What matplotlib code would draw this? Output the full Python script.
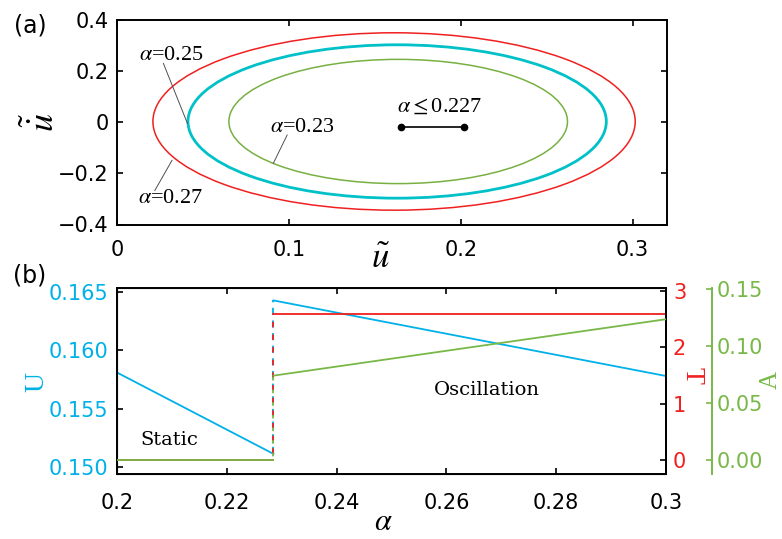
import matplotlib
matplotlib.use("Agg")
import matplotlib.pyplot as plt
from matplotlib.patches import Ellipse

plt.rcParams['font.family'] = ['DejaVu Sans']
plt.rcParams['mathtext.fontset'] = 'stix'

# ---- panel (a): phase-plane orbits ----
orbit_labels = ['0.27', '0.25', '0.23']
orbit_cx = [0.1612, 0.1630, 0.1636]      # centre on u axis
orbit_cy = [0.003, 0.003, 0.003]
orbit_a = [0.1403, 0.1217, 0.0985]       # half width
orbit_b = [0.347, 0.300, 0.243]          # half height
orbit_colors = ['#f02020', '#00c0c8', '#78b043']
orbit_lw = [1.1, 2.0, 1.1]

static_seg_u = [0.165, 0.202]
static_seg_v = [-0.017, -0.017]

# ---- panel (b): U, T, A vs alpha ----
alpha_static = [0.2, 0.2285]
alpha_osc = [0.2285, 0.3]
U_static = [0.1581, 0.1511]
U_osc = [0.1643, 0.1578]
T_static = [0.0, 0.0]
T_osc = [2.586, 2.586]
A_static = [0.0, 0.0]
A_osc = [0.0739, 0.1234]

cU = '#00b0e8'
cT = '#f02020'
cA = '#78b848'

fig = plt.figure(figsize=(7.82, 5.39), dpi=100)

W, H = 782.0, 539.0
ax = fig.add_axes([117 / W, 1 - 224.5 / H, 550 / W, 204.5 / H])
for (cx, cy, a, b, c, lw) in zip(orbit_cx, orbit_cy, orbit_a, orbit_b, orbit_colors, orbit_lw):
    ax.add_patch(Ellipse((cx, cy), 2 * a, 2 * b, fill=False, edgecolor=c, lw=lw))
ax.plot(static_seg_u, static_seg_v, color='k', lw=1.2, marker='o', ms=4.5)
ax.set_xlim(0, 0.32)
ax.set_ylim(-0.4, 0.4)
ax.set_xticks([0, 0.1, 0.2, 0.3])
ax.set_xticklabels(['0', '0.1', '0.2', '0.3'])
ax.set_yticks([-0.4, -0.2, 0, 0.2, 0.4])
ax.set_yticklabels(['\u22120.4', '\u22120.2', '0', '0.2', '0.4'])
ax.tick_params(direction='in', top=True, right=True, length=4, width=1.2,
               labelsize=15)
ax.tick_params(axis='x', pad=11)
ax.tick_params(axis='y', pad=6)
for s in ax.spines.values():
    s.set_linewidth(1.4)

tkw = dict(fontsize=16, family='Liberation Serif')
ax.text(0.013, 0.263, r'$\alpha$=0.25', va='center', ha='left', **tkw)
ax.plot([0.027, 0.041], [0.23, -0.005], color='#505050', lw=0.7)
ax.text(0.089, -0.02, r'$\alpha$=0.23', va='center', ha='left', **tkw)
ax.plot([0.099, 0.091], [-0.05, -0.16], color='#505050', lw=0.7)
ax.text(0.012, -0.298, r'$\alpha$=0.27', va='center', ha='left', **tkw)
ax.plot([0.022, 0.032], [-0.267, -0.149], color='#505050', lw=0.7)
ax.text(0.163, 0.06, r'$\alpha\leq$0.227', va='center', ha='left', **tkw)

fig.text(42 / W, 1 - 122 / H, r'$\tilde{\dot{u}}$', rotation=90, fontsize=26,
         ha='center', va='center')
fig.text(380 / W, 1 - 258 / H, r'$\tilde{u}$', fontsize=25, ha='center', va='center')
fig.text(30 / W, 1 - 26 / H, '(a)', fontsize=17, ha='center', va='center')
fig.text(30 / W, 1 - 275 / H, '(b)', fontsize=17, ha='center', va='center')

# ---- panel (b) ----
axb = fig.add_axes([117 / W, 1 - 474 / H, 549 / W, 186 / H])
axT = axb.twinx()
axA = axb.twinx()

axb.plot(alpha_static, U_static, color=cU, lw=1.3)
axb.plot(alpha_osc, U_osc, color=cU, lw=1.3)
axb.plot([alpha_static[1], alpha_osc[0]], [U_static[1], U_osc[0]],
         color=cU, lw=1.3, ls=(0, (4, 3)))
axT.plot(alpha_static, T_static, color=cT, lw=1.3)
axT.plot(alpha_osc, T_osc, color=cT, lw=1.3)
axT.plot([alpha_static[1], alpha_osc[0]], [T_static[1], T_osc[0]],
         color=cT, lw=1.3, ls=(3.5, (3, 4)))
axA.plot(alpha_static, A_static, color=cA, lw=1.3)
axA.plot(alpha_osc, A_osc, color=cA, lw=1.3)
axA.plot([alpha_static[1], alpha_osc[0]], [A_static[1], A_osc[0]],
         color=cA, lw=1.3, ls=(5, (2, 5)))

axb.set_xlim(0.2, 0.3)
axb.set_ylim(0.14937, 0.16537)
axT.set_ylim(-0.248, 3.053)
axA.set_ylim(-0.0124, 0.1508)

axb.set_xticks([0.2, 0.22, 0.24, 0.26, 0.28, 0.3])
axb.set_xticklabels(['0.2', '0.22', '0.24', '0.26', '0.28', '0.3'])
axb.set_yticks([0.150, 0.155, 0.160, 0.165])
axb.set_yticklabels(['0.150', '0.155', '0.160', '0.165'])
axT.set_yticks([0, 1, 2, 3])
axA.set_yticks([0.0, 0.05, 0.10, 0.15])
axA.set_yticklabels(['0.00', '0.05', '0.10', '0.15'])

axb.tick_params(direction='in', top=True, length=4, width=1.2, labelsize=15)
axb.tick_params(axis='x', pad=14)
axb.tick_params(axis='y', labelcolor=cU, pad=6)
axT.tick_params(direction='in', length=4, width=1.2, labelsize=15,
                labelcolor=cT, pad=5)
axA.tick_params(direction='in', length=4, width=1.2, labelsize=15,
                labelcolor=cA, color=cA, pad=3)

for s in axb.spines.values():
    s.set_linewidth(1.4)
axT.spines['right'].set_linewidth(1.4)
for k in ['left', 'top', 'bottom']:
    axA.spines[k].set_visible(False)
axA.spines['right'].set_position(('axes', 1.0838))
axA.spines['right'].set_color(cA)
axA.spines['right'].set_linewidth(1.4)

axb.text(0.2042, 0.1523, 'Static', fontsize=14, family='DejaVu Serif',
         va='center', ha='left')
axb.text(0.2578, 0.1566, 'Oscillation', fontsize=14, family='DejaVu Serif',
         va='center', ha='left')

fig.text(37 / W, 1 - 382 / H, 'U', rotation=90, fontsize=20, color=cU,
         family='Liberation Serif', ha='center', va='center')
fig.text(692 / W, 1 - 375 / H, 'T', rotation=-90, fontsize=20, color=cT,
         family='Liberation Serif', ha='center', va='center')
fig.text(771 / W, 1 - 380 / H, 'A', rotation=90, fontsize=18, color=cA,
         family='Liberation Serif', ha='center', va='center')
fig.text(383 / W, 1 - 522 / H, r'$\alpha$', fontsize=22, ha='center', va='center')

fig.savefig('out.png', dpi=100)
